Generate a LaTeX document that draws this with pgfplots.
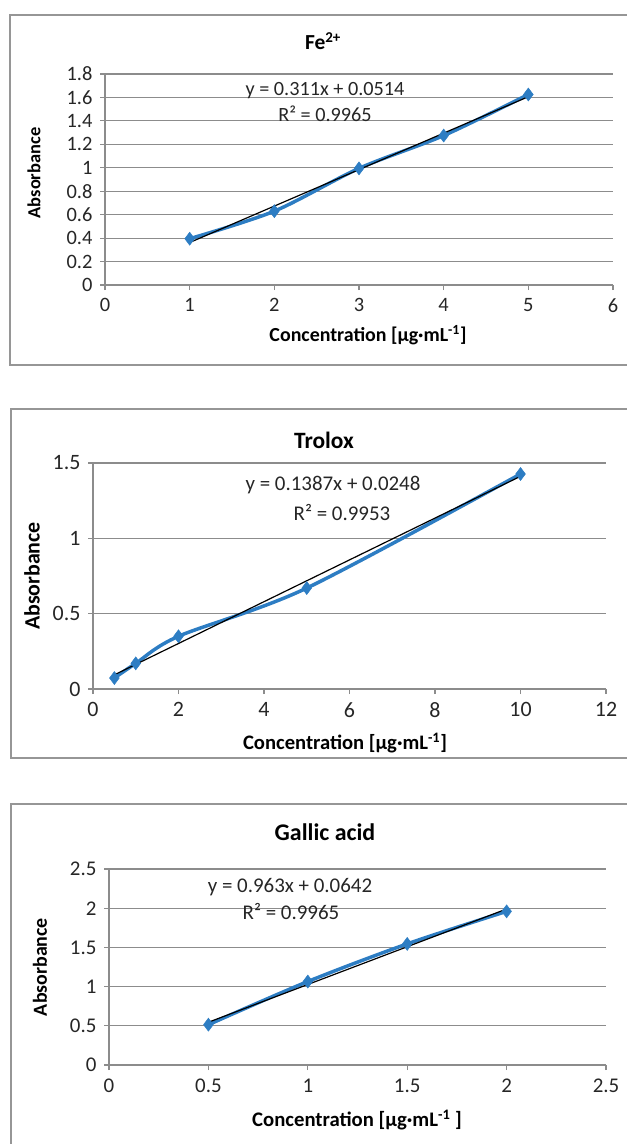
\documentclass[border=0pt]{standalone}
\usepackage{pgfplots}
\pgfplotsset{compat=1.18}
\usepackage{fontspec}
\setmainfont{Carlito}
\definecolor{xblue}{RGB}{45,125,195}
\definecolor{gridgray}{RGB}{140,140,140}
\definecolor{boxgray}{RGB}{150,150,150}
\pgfplotsset{excel/.style={
  scale only axis, anchor=south west,
  axis x line=bottom, axis y line=left,
  axis line style={-, draw=gridgray, line width=1.2bp},
  ymajorgrids, grid style={draw=gridgray, line width=1.2bp},
  tick align=outside, major tick length=5bp,
  tick style={draw=gridgray, line width=1.2bp},
  /pgf/number format/assume math mode=true,
  clip=false,
  xticklabel style={text=black!85},
  yticklabel style={text=black!85},
}}
\begin{document}
\begin{tikzpicture}[x=1bp,y=-1bp]
\path[use as bounding box] (0,0) rectangle (627,1144);
% frames
\draw[boxgray, line width=1.3bp] (627,15) -- (10,15) -- (10,365) -- (627,365);
\draw[boxgray, line width=1.3bp] (627,409) -- (11,409) -- (11,758) -- (627,758);
\draw[boxgray, line width=1.3bp] (627,804) -- (11,804) -- (11,1144);

% ---------- Panel 1: Fe2+ ----------
\begin{axis}[excel, at={(105bp,-285bp)}, width=508bp, height=211bp,
  xmin=0, xmax=6, ymin=0, ymax=1.8,
  xtick={0,1,2,3,4,5,6}, ytick={0,0.2,0.4,0.6,0.8,1,1.2,1.4,1.6,1.8},
  ticklabel style={font=\fontsize{20.5}{22}\selectfont},
  xticklabel style={yshift=-5bp}, yticklabel style={xshift=-4bp}]
\addplot[xblue, line width=3.5bp, smooth, mark=diamond*, mark size=6.5bp,
  mark options={fill=xblue, draw=xblue, line width=0.5bp}]
  coordinates {(1,0.395) (2,0.63) (3,0.995) (4,1.275) (5,1.625)};
\addplot[black, line width=1.2bp] coordinates {(1,0.3624) (5,1.6064)};
\end{axis}
\node[font=\fontsize{21.5}{23}\selectfont\bfseries] at (323,41) {Fe\textsuperscript{2+}};
\node[font=\fontsize{18.5}{20}\selectfont\bfseries, rotate=90] at (34,173) {Absorbance};
\node[font=\fontsize{20}{22}\selectfont\bfseries] at (368,335) {Concentration [µg·mL\textsuperscript{-1}]};
\node[font=\fontsize{20.3}{22}\selectfont, text=black!85] at (325,91) {y = 0.311x + 0.0514};
\node[font=\fontsize{20.3}{22}\selectfont, text=black!85] at (325,114) {R² = 0.9965};

% ---------- Panel 2: Trolox ----------
\begin{axis}[excel, at={(93bp,-689bp)}, width=513bp, height=226bp,
  xmin=0, xmax=12, ymin=0, ymax=1.5,
  xtick={0,2,4,6,8,10,12}, ytick={0,0.5,1,1.5},
  ticklabel style={font=\fontsize{22}{24}\selectfont},
  xticklabel style={yshift=-5bp}, yticklabel style={xshift=-4bp}]
\addplot[xblue, line width=3.5bp, smooth, mark=diamond*, mark size=6.5bp,
  mark options={fill=xblue, draw=xblue, line width=0.5bp}]
  coordinates {(0.5,0.073) (1,0.17) (2,0.35) (5,0.67) (10,1.427)};
\addplot[black, line width=1.2bp] coordinates {(0.5,0.0942) (10,1.4118)};
\end{axis}
\node[font=\fontsize{23.5}{25}\selectfont\bfseries] at (324,440) {Trolox};
\node[font=\fontsize{22}{24}\selectfont\bfseries, rotate=90] at (32,576) {Absorbance};
\node[font=\fontsize{20.7}{22}\selectfont\bfseries] at (345,743) {Concentration [µg·mL\textsuperscript{-1}]};
\node[font=\fontsize{21}{23}\selectfont, text=black!85] at (333,485) {y = 0.1387x + 0.0248};
\node[font=\fontsize{21}{23}\selectfont, text=black!85] at (342,513) {R² = 0.9953};

% ---------- Panel 3: Gallic acid ----------
\begin{axis}[excel, at={(109bp,-1065bp)}, width=497bp, height=196bp,
  xmin=0, xmax=2.5, ymin=0, ymax=2.5,
  xtick={0,0.5,1,1.5,2,2.5}, ytick={0,0.5,1,1.5,2,2.5},
  ticklabel style={font=\fontsize{21}{23}\selectfont},
  xticklabel style={yshift=-5bp}, yticklabel style={xshift=-4bp}]
\addplot[xblue, line width=3.5bp, smooth, mark=diamond*, mark size=6.5bp,
  mark options={fill=xblue, draw=xblue, line width=0.5bp}]
  coordinates {(0.5,0.515) (1,1.065) (1.5,1.545) (2,1.96)};
\addplot[black, line width=1.2bp] coordinates {(0.5,0.5457) (2,1.9902)};
\end{axis}
\node[font=\fontsize{24}{26}\selectfont\bfseries] at (325,832) {Gallic acid};
\node[font=\fontsize{20}{22}\selectfont\bfseries, rotate=90] at (40,967) {Absorbance};
\node[font=\fontsize{20.8}{22}\selectfont\bfseries] at (357,1120) {Concentration [µg·mL\textsuperscript{-1} ]};
\node[font=\fontsize{21}{23}\selectfont, text=black!85] at (290,887) {y = 0.963x + 0.0642};
\node[font=\fontsize{21}{23}\selectfont, text=black!85] at (291,911) {R² = 0.9965};
\end{tikzpicture}
\end{document}
